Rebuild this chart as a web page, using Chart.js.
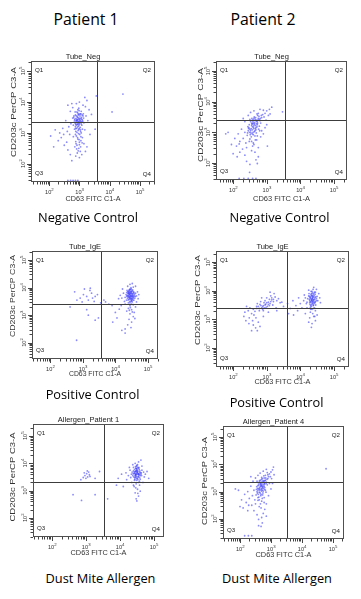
<!DOCTYPE html>
<html><head><meta charset="utf-8">
<script src="https://cdn.jsdelivr.net/npm/chart.js@4/dist/chart.umd.min.js"></script>
<style>
html,body{margin:0;padding:0;background:#fff;width:361px;height:599px;overflow:hidden;position:relative}
canvas{position:absolute}
.lbl{position:absolute;white-space:nowrap;line-height:1;color:#000;font-family:"Open Sans",sans-serif;transform:translateX(-50%)}
</style></head><body>
<script>
// ---- data: each event as [log10 CD63 FITC, log10 CD203c PerCP] ----
const negCtrlP1 = [
[2.95,3.35],[2.90,3.40],[3.00,3.30],[2.98,3.45],[2.88,3.28],[3.05,3.38],[2.93,3.52],[3.02,3.55],[2.85,3.45],[2.97,3.22],
[3.08,3.25],[2.91,3.15],[3.00,3.60],[2.83,3.35],[3.10,3.42],[2.94,3.65],[3.03,3.18],[2.87,3.58],[2.96,3.08],[3.12,3.55],
[2.80,3.25],[3.06,3.70],[2.92,3.02],[2.99,3.48],[2.89,3.38],[3.04,3.05],[2.95,3.75],[2.84,3.12],[3.15,3.33],[2.78,3.48],
[3.01,2.95],[2.90,2.90],[3.07,3.50],[2.86,3.68],[2.98,3.80],[3.10,3.12],[2.93,3.28],[3.02,3.40],[2.96,3.58],[2.88,3.05],
[3.13,3.62],[2.82,3.55],[3.05,2.88],[2.91,3.42],[3.00,3.15],[2.97,3.32],[2.94,3.44],[3.08,3.35],[2.87,3.20],[3.03,3.62],
[2.96,3.38],[2.92,3.33],[3.01,3.44],[2.89,3.47],[3.06,3.29],[2.99,3.26],[2.94,3.19],[3.04,3.47],[2.86,3.31],[2.97,3.62],
[3.09,3.58],[2.90,3.55],[3.02,3.34],[2.95,3.50],[2.84,3.41],[3.11,3.38],[2.98,3.12],[2.92,3.68],[3.05,3.62],[2.88,3.14],
[3.00,3.37],[2.93,3.41],[3.07,3.45],[2.95,3.28],[2.81,3.50],[3.14,3.48],[2.99,3.72],[2.90,3.25],[3.03,3.10],[2.97,2.98],
[2.87,2.95],[3.06,3.00],[2.94,2.85],[3.00,2.62],[2.91,2.48],[3.04,2.55],[2.96,2.42],[3.09,2.68],[2.89,2.65],[2.99,2.78],
[3.20,3.85],[3.25,4.05],[2.75,3.95],[2.70,3.70],[3.18,3.10],[3.22,3.55],[2.72,3.30],[2.65,3.20],[3.28,3.40],[2.95,2.80],
[3.00,2.70],[2.92,2.60],[3.05,2.75],[2.88,2.72],[3.10,2.85],[2.98,2.50],[3.03,2.40],[2.93,2.35],[3.08,2.30],[2.85,2.55],
[3.15,2.65],[2.80,2.88],[2.68,2.95],[3.00,4.00],[2.90,3.95],[3.12,3.90],[2.60,3.05],[2.55,3.40],[2.45,3.15],[2.40,2.85],
[2.50,2.60],[2.35,3.00],[2.30,2.75],[2.20,3.10],[2.15,2.55],[2.05,2.90],[2.62,2.45],[2.70,2.30],[2.48,2.95],[2.58,2.70],
[3.32,3.75],[3.35,2.95],[3.25,2.55],[2.75,2.10],[3.18,4.15],[2.62,3.90],[3.00,2.20],[2.88,2.25],[3.20,2.40],[2.78,3.82],
[3.56,4.20],[3.52,3.12],[4.08,3.68],[4.44,4.26],[3.40,3.60],
[2.62,1.46],[2.71,1.46],[2.79,1.46],[2.87,1.46],[2.95,1.46]
];
const negCtrlP2 = [
[2.62,3.23],[2.55,3.30],[2.68,3.15],[2.60,3.40],[2.72,3.35],[2.50,3.10],[2.65,3.05],[2.58,3.18],[2.75,3.45],[2.48,3.25],
[2.70,3.28],[2.63,3.50],[2.53,2.98],[2.80,3.38],[2.57,3.08],[2.66,3.42],[2.45,3.05],[2.78,3.20],[2.60,2.92],[2.73,3.55],
[2.52,3.35],[2.69,2.98],[2.85,3.48],[2.42,2.90],[2.64,3.32],[2.56,3.45],[2.76,3.10],[2.47,3.15],[2.71,3.60],[2.59,3.00],
[2.82,3.30],[2.54,2.85],[2.67,3.22],[2.61,3.12],[2.74,3.40],[2.50,3.42],[2.88,3.58],[2.44,3.18],[2.79,3.05],[2.58,3.28],
[2.64,3.27],[2.59,3.35],[2.66,3.12],[2.55,3.22],[2.70,3.40],[2.61,3.17],[2.52,3.05],[2.73,3.30],[2.67,3.48],[2.57,2.95],
[2.77,3.52],[2.49,3.00],[2.63,3.02],[2.69,3.36],[2.54,3.12],[2.81,3.45],[2.60,3.30],[2.46,3.12],[2.71,3.18],[2.58,3.40],
[2.65,2.88],[2.75,3.62],[2.51,2.92],[2.84,3.55],[2.62,3.45],[2.56,3.26],[2.68,3.08],[2.72,3.25],[2.43,2.98],[2.78,3.42],
[2.66,2.75],[2.55,2.70],[2.72,2.88],[2.60,2.65],[2.50,2.78],
[2.95,3.62],[3.00,3.70],[3.08,3.75],[3.15,3.82],[2.92,3.50],[3.05,3.55],[2.98,3.40],[3.10,3.60],[2.90,3.72],[2.35,3.00],
[2.30,2.80],[2.25,3.10],[2.38,2.65],[2.20,2.70],[2.15,2.95],[2.10,2.55],[2.28,2.45],[2.40,2.50],[2.05,2.80],[1.95,2.60],
[1.85,3.00],[1.78,2.95],[2.00,2.30],[2.12,2.20],[2.35,2.25],[2.55,2.40],[2.62,2.60],[2.70,2.75],[2.48,2.70],[2.58,2.55],
[2.65,2.35],[2.75,2.50],[2.82,2.85],[2.90,2.95],[2.95,3.15],[2.45,3.55],[2.35,3.35],[2.62,3.70],[2.52,3.65],[2.80,3.75],
[2.75,2.20],[2.40,2.05],[2.68,2.10],[2.20,2.35],[2.85,3.05],[3.00,3.25],[2.30,3.45],[2.18,2.62],[2.50,1.95],[2.72,1.98],
[3.47,3.67],[3.02,2.55],[2.49,1.69],
[2.18,1.49],[2.32,1.49],[2.45,1.49],[2.58,1.49],[2.68,1.49]
];
const posCtrlP1 = [
[4.46,3.73],[4.40,3.80],[4.52,3.68],[4.43,3.65],[4.50,3.85],[4.38,3.72],[4.55,3.78],[4.47,3.60],[4.42,3.90],[4.58,3.70],
[4.35,3.82],[4.49,3.55],[4.53,3.92],[4.44,3.50],[4.60,3.62],[4.37,3.62],[4.48,3.78],[4.41,3.70],[4.56,3.85],[4.51,3.58],
[4.33,3.75],[4.45,3.95],[4.62,3.80],[4.39,3.55],[4.54,3.65],[4.46,3.85],[4.43,3.78],[4.50,3.72],[4.36,3.90],[4.57,3.55],
[4.48,4.00],[4.40,3.45],[4.52,3.48],[4.30,3.65],[4.65,3.70],[4.44,3.68],[4.49,3.88],[4.55,4.02],[4.34,3.55],[4.42,3.82],
[4.47,3.70],[4.44,3.76],[4.51,3.80],[4.41,3.66],[4.49,3.62],[4.54,3.72],[4.39,3.78],[4.46,3.92],[4.52,3.60],[4.43,3.85],
[4.57,3.82],[4.45,3.58],[4.50,3.68],[4.40,3.86],[4.48,3.50],[4.55,3.68],[4.37,3.68],[4.46,3.80],[4.53,3.88],[4.42,3.74],
[4.59,3.76],[4.44,3.62],[4.49,3.95],[4.35,3.70],[4.50,3.52],[4.61,3.68],[4.38,3.85],[4.47,3.66],[4.52,3.76],[4.43,3.92],
[4.56,3.62],[4.41,3.58],[4.48,3.84],[4.54,3.55],[4.45,3.45],[4.50,3.40],[4.46,3.28],[4.52,3.12],[4.43,3.18],
[4.25,3.80],[4.28,3.50],[4.70,3.60],[4.68,3.85],[4.62,4.05],[4.45,4.12],[4.38,4.05],[4.52,4.15],[4.22,3.95],[4.72,3.75],
[4.20,3.62],[4.30,3.40],[4.45,3.35],[4.55,3.38],[4.40,3.25],[4.50,3.20],[4.35,3.15],[4.58,3.10],[4.45,3.05],[4.55,2.95],
[4.42,2.85],[4.50,2.75],[4.38,2.65],[4.30,2.50],[4.48,2.55],[4.62,3.30],[4.18,3.35],[4.65,3.48],[4.15,3.72],[4.60,2.88],
[3.80,3.40],[3.90,3.35],[4.00,3.10],[4.05,2.90],[3.92,2.75],[4.12,3.22],[3.70,3.48],[4.20,2.45],[4.30,2.35],[4.10,3.60],[3.65,3.55],
[2.92,3.62],[3.02,3.75],[3.22,3.90],[3.27,3.80],[3.17,3.55],[3.38,3.68],[2.82,3.55],[3.12,3.68],[3.05,3.95],[3.30,3.62],
[2.98,3.48],[3.35,3.50],[2.61,3.30],[3.12,3.20],[3.17,3.00],[3.38,2.82],[3.48,2.90],[2.81,2.09],[3.55,3.45],[3.45,3.75],[2.75,3.85],[3.23,3.98]
];
const posCtrlP2 = [
[4.35,3.71],[4.30,3.78],[4.40,3.65],[4.32,3.60],[4.38,3.85],[4.27,3.70],[4.43,3.75],[4.36,3.55],[4.33,3.90],[4.45,3.62],
[4.25,3.82],[4.39,3.50],[4.42,3.95],[4.31,3.48],[4.48,3.72],[4.28,3.58],[4.37,3.80],[4.34,3.66],[4.44,3.88],[4.41,3.55],
[4.22,3.72],[4.35,3.98],[4.50,3.80],[4.30,3.42],[4.40,3.70],[4.36,3.76],[4.26,3.90],[4.46,3.50],[4.38,4.05],[4.33,3.82],
[4.52,3.65],[4.20,3.60],[4.29,3.52],[4.42,3.40],[4.37,3.62],
[4.36,3.73],[4.33,3.68],[4.39,3.78],[4.31,3.72],[4.41,3.60],[4.35,3.82],[4.28,3.65],[4.43,3.70],[4.37,3.58],[4.32,3.86],
[4.46,3.78],[4.34,3.52],[4.40,3.90],[4.27,3.80],[4.44,3.58],[4.38,3.68],[4.30,3.62],[4.36,3.92],[4.42,3.82],[4.33,3.45],
[4.48,3.65],[4.29,3.75],[4.39,3.48],[4.35,3.64],[4.45,3.95],[4.32,3.98],[4.40,3.38],[4.37,3.20],[4.31,3.35],[4.43,3.10],
[4.15,3.75],[4.18,3.55],[4.55,3.90],[4.58,3.75],[4.48,4.05],[4.40,4.12],[4.25,4.02],[4.12,3.85],[4.60,3.58],[4.10,3.65],
[4.20,3.40],[4.35,3.35],[4.45,3.30],[4.30,3.25],[4.40,3.10],[4.28,3.05],[4.45,2.95],[4.35,2.85],[4.25,2.90],[4.50,3.15],[4.15,3.20],[4.33,2.72],
[3.62,3.55],[3.78,3.65],[3.92,3.30],[3.80,3.15],[3.95,3.75],[3.87,3.48],[4.00,3.55],[3.70,3.38],[4.05,3.40],[3.65,3.20],
[2.97,3.53],[2.90,3.48],[3.05,3.60],[2.85,3.40],[3.10,3.55],[2.95,3.65],[3.02,3.45],[2.80,3.52],[3.15,3.68],[2.88,3.35],
[3.08,3.70],[2.78,3.30],[3.20,3.62],[2.92,3.58],[3.00,3.75],[2.75,3.45],[3.25,3.78],[2.70,3.38],[3.18,3.50],[2.82,3.62],
[3.30,3.65],[2.65,3.28],[3.12,3.82],[2.72,3.55],[3.35,3.72],[2.60,3.35],[3.22,3.90],[2.55,3.20],[3.40,3.58],[2.98,3.42],
[2.95,3.50],[3.05,3.52],[2.88,3.44],[3.12,3.62],[3.00,3.58],[2.83,3.48],[3.20,3.70],[2.93,3.40],[3.08,3.48],[2.78,3.38],
[3.15,3.75],[2.70,3.45],[2.90,3.30],
[3.45,3.60],[2.50,3.40],[2.62,3.15],[2.45,3.30],[2.40,3.45],[2.35,3.25],[2.32,3.10],[2.48,3.05],[2.58,2.95],[2.68,3.05],
[2.75,2.90],[2.67,2.70],[2.60,2.80],[2.55,2.60],[2.47,2.85],[2.72,2.60],[2.80,2.75],[2.90,3.10],[3.05,3.25],[3.30,3.30],
[3.50,3.45],[2.38,2.95],[3.10,3.95],[3.28,3.40],[2.85,3.75]
];
const allergenP1 = [
[4.50,3.63],[4.45,3.70],[4.55,3.58],[4.48,3.52],[4.52,3.75],[4.42,3.62],[4.58,3.68],[4.50,3.45],[4.47,3.82],[4.60,3.55],
[4.40,3.72],[4.53,3.40],[4.56,3.85],[4.44,3.48],[4.63,3.65],[4.38,3.55],[4.51,3.68],[4.46,3.60],[4.57,3.78],[4.54,3.50],
[4.36,3.68],[4.49,3.90],[4.65,3.75],[4.43,3.38],[4.55,3.62],[4.48,3.72],[4.40,3.85],[4.60,3.42],[4.52,3.95],[4.46,3.55],
[4.62,3.60],[4.34,3.60],[4.44,3.42],[4.58,3.35],[4.50,3.80],
[4.51,3.65],[4.47,3.60],[4.53,3.70],[4.45,3.55],[4.56,3.62],[4.49,3.75],[4.42,3.68],[4.54,3.52],[4.48,3.80],[4.59,3.72],
[4.44,3.64],[4.52,3.45],[4.50,3.70],[4.46,3.88],[4.57,3.58],[4.41,3.50],[4.55,3.82],[4.48,3.58],[4.61,3.65],[4.43,3.78],
[4.53,3.60],[4.47,3.48],[4.50,3.92],[4.58,3.48],[4.39,3.62],[4.52,3.85],[4.46,3.70],[4.64,3.55],[4.49,3.38],[4.55,3.30],
[4.47,3.10],[4.53,2.90],
[4.30,3.75],[4.32,3.48],[4.70,3.68],[4.72,3.50],[4.65,3.90],[4.55,4.05],[4.45,4.00],[4.38,3.95],[4.28,3.85],[4.75,3.60],
[4.25,3.55],[4.35,3.30],[4.48,3.25],[4.58,3.20],[4.42,3.15],[4.52,3.05],[4.60,2.98],[4.45,2.92],[4.55,2.80],[4.48,2.70],
[4.50,2.62],[4.68,3.30],[4.20,3.40],[4.80,3.70],[4.62,4.12],[4.40,3.20],[4.18,3.65],[4.85,3.45],
[2.97,3.55],[3.02,3.62],[3.05,3.50],[3.08,3.68],[3.00,3.45],[3.10,3.58],[2.95,3.65],[3.04,3.72],[2.92,3.48],[3.12,3.52],
[2.85,3.40],[3.40,3.70],[3.27,3.45],
[2.62,2.85],[2.87,2.64],[3.27,2.85],[3.64,2.70],[3.95,3.45],[4.05,3.60],[3.90,3.20],[4.10,3.15]
];
const allergenP2 = [
[2.70,3.20],[2.65,3.28],[2.75,3.12],[2.68,3.35],[2.78,3.30],[2.60,3.10],[2.72,3.05],[2.66,3.18],[2.82,3.42],[2.58,3.22],
[2.76,3.25],[2.70,3.45],[2.62,2.98],[2.85,3.35],[2.64,3.05],[2.73,3.38],[2.55,3.00],[2.80,3.15],[2.68,2.90],[2.78,3.50],
[2.60,3.32],[2.74,2.95],[2.90,3.48],[2.52,2.88],[2.71,3.28],[2.63,3.40],[2.82,3.05],[2.57,3.12],[2.77,3.58],[2.67,2.85],
[2.88,3.25],[2.61,2.80],[2.73,3.15],[2.69,3.08],[2.80,3.40],[2.55,3.38],[2.92,3.55],[2.54,3.18],[2.84,2.98],[2.66,3.22],
[2.71,3.22],[2.67,3.30],[2.74,3.18],[2.63,3.15],[2.77,3.36],[2.69,3.02],[2.60,3.25],[2.80,3.28],[2.72,3.48],[2.65,2.95],
[2.83,3.50],[2.58,3.05],[2.70,3.12],[2.76,3.40],[2.62,3.35],[2.87,3.45],[2.68,3.25],[2.56,2.95],[2.79,3.08],[2.66,3.42],
[2.73,2.88],[2.82,3.60],[2.59,2.90],[2.90,3.62],[2.70,3.52],[2.64,3.10],[2.75,3.02],[2.78,3.20],[2.53,3.08],[2.85,3.30],
[2.72,2.75],[2.62,2.70],[2.78,2.60],[2.66,2.55],[2.58,2.78],
[2.95,3.65],[3.00,3.72],[3.05,3.80],[3.08,3.90],[2.98,3.55],[3.02,3.48],[2.88,3.70],[3.10,3.62],[2.85,3.82],[2.75,3.75],
[2.45,3.05],[2.40,2.85],[2.35,3.20],[2.48,2.70],[2.30,2.75],[2.25,3.00],[2.20,2.60],[2.38,2.50],[2.50,2.55],[2.15,2.90],
[2.05,2.70],[1.95,3.05],[1.85,3.10],[2.10,2.40],[2.25,2.30],[2.45,2.30],[2.62,2.45],[2.70,2.65],[2.78,2.78],[2.58,2.68],
[2.68,2.40],[2.75,2.20],[2.85,2.55],[2.92,2.85],[3.00,3.10],[2.50,3.50],[2.42,3.38],[2.65,3.68],[2.58,3.60],[2.80,2.35],
[2.55,2.15],[2.70,2.05],[2.60,1.98],[2.72,1.85],[2.28,2.50],[2.95,3.30],[2.35,3.55],[2.00,2.45],[2.85,2.10],[3.05,3.30],
[4.78,3.84],[2.60,1.75],[2.68,1.72],
[2.15,1.38],[2.27,1.38],[2.38,1.38]
];
const tickExponents = [2,3,4,5];
const panelTitles = ['Tube_Neg','Tube_Neg','Tube_IgE','Tube_IgE','Allergen_Patient 1','Allergen_Patient 4'];
const quadrantNames = ['Q1','Q2','Q3','Q4'];
const xAxisTitle = 'CD63 FITC C1-A';
const yAxisTitle = 'CD203c PerCP C3-A';
const columnHeads = ['Patient 1','Patient 2'];
const captions = ['Negative Control','Negative Control','Positive Control','Positive Control','Dust Mite Allergen','Dust Mite Allergen'];
const gates = [[3.57,3.36],[3.53,3.40],[3.55,3.40],[3.59,3.39],[3.54,3.33],[3.53,3.37]];

// ---- layout ----
const series = [negCtrlP1, negCtrlP2, posCtrlP1, posCtrlP2, allergenP1, allergenP2];
const layout = [
 {box:[31,61,154,181], xr:[1.40,5.50], yr:[1.41,5.33], xt:[199,55], yt:[14,112,90]},
 {box:[216,61,346,179], xr:[1.49,5.39], yr:[1.44,5.33], xt:[199,57], yt:[201,115,94]},
 {box:[32,251,157,358], xr:[1.44,5.31], yr:[1.41,5.33], xt:[374,52], yt:[13,296,82]},
 {box:[216,251,348,366], xr:[1.49,5.45], yr:[1.33,5.39], xt:[382,56], yt:[198,300,90]},
 {box:[33,424,163,536], xr:[1.44,5.30], yr:[1.30,5.44], xt:[553,56], yt:[13,477,89]},
 {box:[223,426,343,538], xr:[1.45,5.36], yr:[1.26,5.41], xt:[555,56], yt:[205,481,88]}
];
const PL=30, PT=14, PR=8, PB=30;
const AX='"Liberation Sans", Arial, sans-serif';

const facs = {
  id:'facs',
  afterDatasetsDraw(chart, args, o){
    const {ctx, chartArea:a, scales:{x,y}} = chart;
    const L = o.L, ox = o.ox, oy = o.oy;
    ctx.save();
    ctx.lineWidth = 1;
    ctx.strokeStyle = '#3c3c3c';
    const gx = Math.round(x.getPixelForValue(o.gate[0]))+0.5;
    const gy = Math.round(y.getPixelForValue(o.gate[1]))+0.5;
    ctx.beginPath();
    ctx.moveTo(gx,a.top); ctx.lineTo(gx,a.bottom);
    ctx.moveTo(a.left,gy); ctx.lineTo(a.right,gy);
    ctx.stroke();
    ctx.strokeStyle = '#505050';
    ctx.strokeRect(a.left+0.5, a.top+0.5, a.right-a.left-1, a.bottom-a.top-1);
    ctx.strokeStyle = '#444';
    ctx.beginPath();
    for (let n=1;n<=5;n++) for (let k=1;k<=9;k++){
      const v = n+Math.log10(k);
      const len = k===1?4:2.5;
      if (v>=x.min && v<=x.max){
        const px = Math.round(x.getPixelForValue(v))+0.5;
        ctx.moveTo(px,a.bottom); ctx.lineTo(px,a.bottom+len);
      }
      if (v>=y.min && v<=y.max){
        const py = Math.round(y.getPixelForValue(v))+0.5;
        ctx.moveTo(a.left,py); ctx.lineTo(a.left-len,py);
      }
    }
    ctx.stroke();
    ctx.fillStyle = '#333';
    for (const e of tickExponents){
      const px = x.getPixelForValue(e);
      ctx.font = '5.6px '+AX; ctx.textAlign='center'; ctx.textBaseline='middle';
      ctx.fillText('10', px-1, a.bottom+10);
      ctx.font = '4.3px '+AX; ctx.textAlign='left';
      ctx.fillText(String(e), px+2.2, a.bottom+7.5);
      const py = y.getPixelForValue(e);
      ctx.save();
      ctx.translate(a.left-8, py); ctx.rotate(-Math.PI/2);
      ctx.font = '5.6px '+AX; ctx.textAlign='center';
      ctx.fillText('10', -1, 0);
      ctx.font = '4.3px '+AX; ctx.textAlign='left';
      ctx.fillText(String(e), 2.2, -2.5);
      ctx.restore();
    }
    ctx.font = '6.2px '+AX; ctx.fillStyle='#222'; ctx.textBaseline='middle';
    ctx.textAlign='left';
    ctx.fillText(quadrantNames[0], a.left+4, a.top+9);
    ctx.fillText(quadrantNames[2], a.left+4, a.bottom-9);
    ctx.textAlign='right';
    ctx.fillText(quadrantNames[1], a.right-4, a.top+9);
    ctx.fillText(quadrantNames[3], a.right-4, a.bottom-8);
    ctx.font = '7.5px '+AX; ctx.textAlign='center'; ctx.textBaseline='alphabetic'; ctx.fillStyle='#222';
    ctx.fillText(o.title, (a.left+a.right)/2-10, a.top-2.5);
    ctx.fillStyle='#333'; ctx.font = '7.2px '+AX; ctx.textBaseline='middle'; ctx.textAlign='center';
    let m = ctx.measureText(xAxisTitle).width;
    ctx.save();
    ctx.translate((a.left+a.right)/2, L.xt[0]-oy);
    ctx.scale(L.xt[1]/m, 1);
    ctx.fillText(xAxisTitle, 0, 0);
    ctx.restore();
    m = ctx.measureText(yAxisTitle).width;
    ctx.save();
    ctx.translate(L.yt[0]-ox, L.yt[1]-oy);
    ctx.rotate(-Math.PI/2);
    ctx.scale(L.yt[2]/m, 1);
    ctx.fillText(yAxisTitle, 0, 0);
    ctx.restore();
    ctx.restore();
  }
};

series.forEach((pts, i) => {
  const L = layout[i];
  const [l,t,r,b] = L.box;
  const w = r-l+1, h = b-t+1;
  const cv = document.createElement('canvas');
  const cw = w+PL+PR, ch = h+PT+PB;
  cv.width = cw; cv.height = ch;
  cv.style.left = (l-PL)+'px'; cv.style.top = (t-PT)+'px';
  cv.style.width = cw+'px'; cv.style.height = ch+'px';
  document.body.appendChild(cv);
  new Chart(cv, {
    type:'scatter',
    data:{datasets:[{data: pts.map(p=>({x:p[0], y:p[1]})),
      pointRadius:0.9, pointHoverRadius:0.9, borderWidth:0,
      backgroundColor:'rgba(55,55,250,0.58)', pointBorderColor:'rgba(0,0,0,0)'}]},
    options:{
      responsive:false, animation:false, devicePixelRatio:1,
      layout:{padding:{left:PL, top:PT, right:PR, bottom:PB}},
      plugins:{legend:{display:false}, tooltip:{enabled:false},
        facs:{gate:gates[i], title:panelTitles[i], L:L, ox:l-PL, oy:t-PT}},
      scales:{
        x:{type:'linear', min:L.xr[0], max:L.xr[1], display:false},
        y:{type:'linear', min:L.yr[0], max:L.yr[1], display:false}
      }
    },
    plugins:[facs]
  });
});

function addLabel(text, cx, baseline, size){
  const d = document.createElement('div');
  d.className='lbl'; d.textContent=text;
  d.style.fontSize = size+'px';
  d.style.left = cx+'px';
  d.style.top = (baseline - 0.888*size)+'px';
  document.body.appendChild(d);
}
addLabel(columnHeads[0], 86, 26, 15.8);
addLabel(columnHeads[1], 263, 26, 15.8);
const capPos = [[88,222.6],[279.5,222.6],[92.5,399],[276.5,407],[100.5,583.6],[277,583.6]];
captions.forEach((c,i)=>addLabel(c, capPos[i][0], capPos[i][1], 12.8));
</script>
</body></html>
